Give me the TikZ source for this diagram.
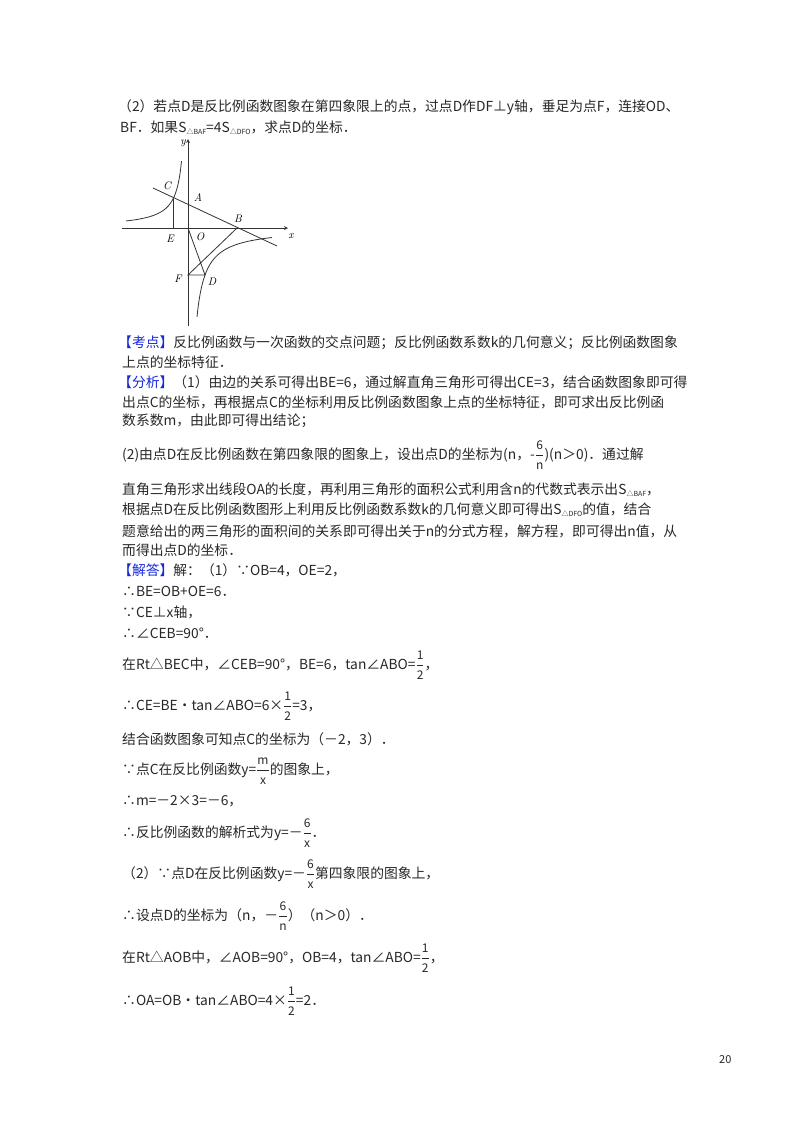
\documentclass[tikz,border=0pt]{standalone}
\usepackage{amsmath}
\usepackage{fontspec}
\setmainfont{Noto Sans CJK SC}
\newfontfamily\lmf{Latin Modern Roman}
\definecolor{txt}{RGB}{40,40,40}
\definecolor{kblue}{RGB}{20,40,220}
\newcommand{\fr}[2]{\ensuremath{\dfrac{\text{\fontsize{12}{12}\selectfont #1}}{\text{\fontsize{12}{12}\selectfont #2}}}}
\newcommand{\sbt}[1]{\raisebox{-0.3ex}{\fontsize{7}{7}\selectfont #1}}
\newcommand{\kb}[1]{\textcolor{kblue}{#1}}
\begin{document}
\begin{tikzpicture}[x=1pt,y=-1pt,
  ln/.style={anchor=west,inner sep=0pt,text=txt,font=\fontsize{13.8}{15}\selectfont},
  lab/.style={inner sep=0pt,font=\lmf\itshape\fontsize{11}{11}\selectfont},
  g/.style={line width=0.8pt,black!80}]
\useasboundingbox (0,0) rectangle (800,1132);
\fill[white] (0,0) rectangle (800,1132);
\node[ln] (l1) at (118,107) {（2）若点D是反比例函数图象在第四象限上的点，过点D作DF⊥y轴，垂足为点F，连接OD、};
\node[ln] (l2) at (120,128) {BF．如果S\sbt{△BAF}=4S\sbt{△DFO}，求点D的坐标．};
% graph
\coordinate (O) at (188,228);
\coordinate (C) at (173,199);
\coordinate (E) at (173,228);
\coordinate (B) at (237,228);
\coordinate (F) at (188,275);
\coordinate (D) at (205,275);
\coordinate (xl) at (122,228); \coordinate (xr) at (288,228);
\coordinate (yb) at (188,326); \coordinate (yt) at (188,139);
\coordinate (p1) at (153,188); \coordinate (p2) at (277,246);
\draw[g,->,>=stealth] (xl) -- (xr);
\draw[g,->,>=stealth] (yb) -- (yt);
\draw[g] (p1) -- (p2);
\draw[g] (C) -- (E);
\draw[g] (O) -- (D) -- (F) -- (B);
\draw[g,domain=6.5:62,samples=60,smooth,variable=\a] plot ({188-\a},{228-435/\a});
\draw[g,domain=9:84,samples=60,smooth,variable=\a] plot ({188+\a},{228+800/\a});
\node[lab] (ly) at (183,143) {y};
\node[lab] (lx) at (291,236) {x};
\node[lab] (lC) at (167,186) {C};
\node[lab] (lA) at (198,198) {A};
\node[lab] (lB) at (238,219) {B};
\node[lab] (lE) at (170,239) {E};
\node[lab] (lO) at (200,237) {O};
\node[lab] (lF) at (178,279) {F};
\node[lab] (lD) at (212,282) {D};
% text
\node[ln] (l3) at (118,343) {\kb{【考点】}反比例函数与一次函数的交点问题；反比例函数系数k的几何意义；反比例函数图象};
\node[ln] (l4) at (122,362) {上点的坐标特征．};
\node[ln] (l5) at (118,382) {\kb{【分析】}（1）由边的关系可得出BE=6，通过解直角三角形可得出CE=3，结合函数图象即可得};
\node[ln] (l6) at (122,402) {出点C的坐标，再根据点C的坐标利用反比例函数图象上点的坐标特征，即可求出反比例函};
\node[ln] (l7) at (122,421) {数系数m，由此即可得出结论；};
\node[ln] (l8) at (122,455) {(2)由点D在反比例函数在第四象限的图象上，设出点D的坐标为(n，-\fr{6}{n})(n＞0)．通过解};
\node[ln] (l9) at (122,490) {直角三角形求出线段OA的长度，再利用三角形的面积公式利用含n的代数式表示出S\sbt{△BAF}，};
\node[ln] (l10) at (122,510) {根据点D在反比例函数图形上利用反比例函数系数k的几何意义即可得出S\sbt{△DFO}的值，结合};
\node[ln] (l11) at (122,531) {题意给出的两三角形的面积间的关系即可得出关于n的分式方程，解方程，即可得出n值，从};
\node[ln] (l12) at (122,550) {而得出点D的坐标．};
\node[ln] (l13) at (118,570) {\kb{【解答】}解：（1）∵OB=4，OE=2，};
\node[ln] (l14) at (122,591) {∴BE=OB+OE=6．};
\node[ln] (l15) at (122,612) {∵CE⊥x轴，};
\node[ln] (l16) at (122,633) {∴∠CEB=90°．};
\node[ln] (l17) at (122,665) {在Rt△BEC中，∠CEB=90°，BE=6，tan∠ABO=\fr{1}{2}，};
\node[ln] (l18) at (122,706) {∴CE=BE•tan∠ABO=6×\fr{1}{2}=3，};
\node[ln] (l19) at (122,739) {结合函数图象可知点C的坐标为（－2，3）．};
\node[ln] (l20) at (122,771) {∵点C在反比例函数y=\fr{m}{x}的图象上，};
\node[ln] (l21) at (122,801) {∴m=－2×3=－6，};
\node[ln] (l22) at (122,833) {∴反比例函数的解析式为y=－\fr{6}{x}．};
\node[ln] (l23) at (122,874) {（2）∵点D在反比例函数y=－\fr{6}{x}第四象限的图象上，};
\node[ln] (l24) at (122,916) {∴设点D的坐标为（n，－\fr{6}{n}）（n＞0）．};
\node[ln] (l25) at (122,958) {在Rt△AOB中，∠AOB=90°，OB=4，tan∠ABO=\fr{1}{2}，};
\node[ln] (l26) at (122,1001) {∴OA=OB•tan∠ABO=4×\fr{1}{2}=2．};
\node[ln,font=\fontsize{11}{12}\selectfont] (pg) at (719,1060) {20};
\end{tikzpicture}
\end{document}
